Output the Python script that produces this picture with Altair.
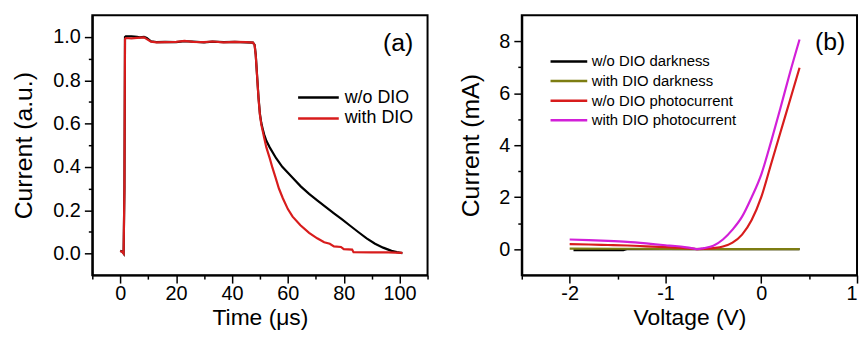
import altair as alt
import pandas as pd

FONT = "Liberation Sans"

# ---------------- Panel (a): transient current ----------------
t_wo = [0.0, 0.8, 1.2, 1.5, 1.7, 2.0, 4.0, 6.0, 7.0, 8.5, 9.5, 11.0, 13.0, 16.0, 20.0, 23.0, 26.0, 30.0,
        33.0, 37.0, 41.0, 45.0, 47.5, 48.1, 48.5, 49.0, 49.5, 50.0, 50.5, 51.0, 51.5, 52.3, 53.5, 55.8,
        58.0, 61.7, 64.6, 67.6, 70.5, 73.5, 76.5, 79.4, 82.3, 85.3, 88.2, 91.2, 94.1, 97.1, 99.0, 101.0]
i_wo = [0.012, 0.008, 0.0, 0.3, 1.0, 1.003, 1.003, 1.0, 0.998, 1.0, 0.995, 0.98, 0.976, 0.977, 0.976,
        0.98, 0.978, 0.975, 0.978, 0.976, 0.977, 0.975, 0.974, 0.963, 0.918, 0.818, 0.72, 0.645, 0.602,
        0.575, 0.55, 0.52, 0.49, 0.44, 0.40, 0.35, 0.31, 0.275, 0.245, 0.215, 0.185, 0.157, 0.128, 0.098,
        0.07, 0.045, 0.027, 0.012, 0.006, 0.002]

t_with = [0.0, 0.8, 1.2, 1.5, 1.7, 2.0, 4.0, 6.0, 8.5, 9.5, 11.0, 13.0, 16.0, 20.0, 23.0, 26.0, 30.0,
          33.0, 37.0, 41.0, 45.0, 47.5, 48.1, 48.5, 49.0, 49.5, 50.0, 50.5, 51.0, 51.5, 52.3, 53.5, 54.5,
          55.6, 56.8, 58.2, 60.0, 61.7, 64.5, 67.6, 70.5, 73.0, 75.0, 76.5, 79.0, 80.0, 83.0, 83.5, 90.0,
          96.0, 101.0]
i_with = [0.012, 0.006, 0.0, 0.3, 0.99, 0.995, 0.993, 0.996, 0.998, 0.99, 0.978, 0.975, 0.976, 0.977,
          0.982, 0.977, 0.976, 0.979, 0.975, 0.977, 0.976, 0.974, 0.962, 0.915, 0.815, 0.715, 0.64, 0.595,
          0.565, 0.535, 0.49, 0.44, 0.395, 0.35, 0.30, 0.255, 0.205, 0.17, 0.13, 0.095, 0.07, 0.052, 0.045,
          0.033, 0.03, 0.02, 0.018, 0.006, 0.005, 0.005, 0.003]

series_a = ["w/o DIO", "with DIO"]
colors_a = ["#000000", "#d81c1c"]

# ---------------- Panel (b): I-V curves ----------------
v_dark_wo = [-1.96, -1.45, -1.40, 0.4]
i_dark_wo = [-0.04, -0.04, 0.0, 0.0]
v_dark_with = [-2.0, -1.0, 0.0, 0.4]
i_dark_with = [0.02, 0.01, 0.0, 0.0]

v_photo = [-2.0, -1.8, -1.6, -1.4, -1.2, -1.0, -0.9, -0.8, -0.7, -0.67, -0.6, -0.5, -0.4, -0.3, -0.2,
           -0.1, 0.0, 0.1, 0.2, 0.3, 0.4]
i_photo_wo = [0.19, 0.18, 0.16, 0.14, 0.11, 0.08, 0.06, 0.04, 0.01, 0.0, 0.005, 0.04, 0.1, 0.25, 0.56,
              1.12, 2.0, 3.24, 4.49, 5.73, 6.98]
i_photo_with = [0.37, 0.35, 0.32, 0.28, 0.22, 0.15, 0.12, 0.08, 0.02, 0.0, 0.04, 0.13, 0.37, 0.75, 1.25,
                2.0, 2.87, 4.1, 5.42, 6.79, 8.07]

series_b = ["w/o DIO darkness", "with DIO darkness", "w/o DIO photocurrent", "with DIO photocurrent"]
colors_b = ["#000000", "#7d7d12", "#d81c1c", "#d21fd8"]

panel_labels = ["(a)", "(b)"]

# ---------------- build ----------------
W, H = 338, 262


def axis(title, values, major_test, label_expr, orient, label_pad, title_pad, title_size, flush=False):
    return alt.Axis(
        title=title, orient=orient, values=values, labelExpr=label_expr,
        tickSize={"condition": {"test": major_test, "value": 8}, "value": 4},
        labelPadding=label_pad, titlePadding=title_pad, grid=False, labelOverlap=False,
        labelFlush=flush,
        labelFont=FONT, labelFontSize=20, labelColor="black",
        titleFont=FONT, titleFontSize=title_size, titleFontWeight="normal", titleColor="black",
        domainColor="black", domainWidth=2, tickColor="black", tickWidth=1.5,
    )


def legend(x, y, path, font_size, offset, row_pad):
    return alt.Legend(orient="none", legendX=x, legendY=y, title=None,
                      symbolType=path, symbolSize=100, symbolStrokeWidth=2.5,
                      labelFontSize=font_size, labelFont=FONT, labelColor="black",
                      labelOffset=offset, rowPadding=row_pad)


xa_vals = list(range(-10, 111, 10))
ya_vals = [round(0.1 * k, 1) for k in range(11)]
xa = alt.Scale(domain=[-10, 110], nice=False, zero=False)
ya = alt.Scale(domain=[-0.1, 1.1], nice=False, zero=False)
x_axis_a = axis("Time (μs)", xa_vals, "datum.value % 20 === 0",
                "(datum.value % 20 === 0 && datum.value >= 0 && datum.value <= 100) ? '' + datum.value : ''",
                "bottom", 1, 3, 23)
y_axis_a = axis("Current (a.u.)", ya_vals, "round(datum.value * 10) % 2 === 0",
                "round(datum.value * 10) % 2 === 0 ? format(datum.value, '.1f') : ''",
                "left", 4, 16, 25)
color_a = alt.Color("series:N", scale=alt.Scale(domain=series_a, range=colors_a),
                    legend=legend(219, 74, "M-4.1,0H4.1", 18, 17.5, 3))

df_a1 = pd.DataFrame({"t": t_wo, "i": i_wo, "series": series_a[0]})
df_a2 = pd.DataFrame({"t": t_with, "i": i_with, "series": series_a[1]})

lines_a = [
    alt.Chart(d).mark_line(strokeWidth=2.2).encode(
        x=alt.X("t:Q", scale=xa, axis=x_axis_a),
        y=alt.Y("i:Q", scale=ya, axis=y_axis_a),
        color=color_a,
    )
    for d in (df_a1, df_a2)
]
lab_a = alt.Chart(pd.DataFrame({"x": [99.5], "y": [0.972], "txt": [panel_labels[0]]})).mark_text(
    font=FONT, fontSize=25, color="black", align="center", baseline="middle"
).encode(x=alt.X("x:Q", scale=xa, axis=x_axis_a), y=alt.Y("y:Q", scale=ya, axis=y_axis_a), text="txt:N")

panel_a = alt.layer(*lines_a, lab_a).properties(width=W, height=H)

xb_vals = [-2.5, -2.0, -1.5, -1.0, -0.5, 0.0, 0.5, 1.0]
yb_vals = list(range(0, 9))
xb = alt.Scale(domain=[-2.5, 1.0], nice=False, zero=False)
yb = alt.Scale(domain=[-1, 9], nice=False, zero=False)
x_axis_b = axis("Voltage (V)", xb_vals, "datum.value % 1 === 0",
                "(datum.value % 1 === 0 && datum.value >= -2) ? '' + datum.value : ''", "bottom", 1, 3, 23,
                flush=True)
y_axis_b = axis("Current (mA)", yb_vals, "datum.value % 2 === 0",
                "datum.value % 2 === 0 ? '' + datum.value : ''", "left", 4, 16, 25)
color_b = alt.Color("series:N", scale=alt.Scale(domain=series_b, range=colors_b),
                    legend=legend(40, 39, "M-3.7,0H3.7", 15, 15.5, 3.8))

dfs_b = [
    pd.DataFrame({"v": v_dark_wo, "i": i_dark_wo, "series": series_b[0]}),
    pd.DataFrame({"v": v_dark_with, "i": i_dark_with, "series": series_b[1]}),
    pd.DataFrame({"v": v_photo, "i": i_photo_wo, "series": series_b[2]}),
    pd.DataFrame({"v": v_photo, "i": i_photo_with, "series": series_b[3]}),
]
lines_b = [
    alt.Chart(d).mark_line(strokeWidth=2.2, interpolate="monotone").encode(
        x=alt.X("v:Q", scale=xb, axis=x_axis_b),
        y=alt.Y("i:Q", scale=yb, axis=y_axis_b),
        color=color_b,
    )
    for d in dfs_b
]
lab_b = alt.Chart(pd.DataFrame({"x": [0.72], "y": [7.95], "txt": [panel_labels[1]]})).mark_text(
    font=FONT, fontSize=25, color="black", align="center", baseline="middle"
).encode(x=alt.X("x:Q", scale=xb, axis=x_axis_b), y=alt.Y("y:Q", scale=yb, axis=y_axis_b), text="txt:N")

panel_b = alt.layer(*lines_b, lab_b).properties(width=W, height=H)

chart = alt.hconcat(panel_a, panel_b, spacing=27).resolve_scale(color="independent").properties(
    padding={"left": 3, "top": 5, "right": 0, "bottom": 0}, background="white"
).configure_view(
    stroke="black", strokeWidth=2
)

chart.save("out.html", embed_options={"renderer": "svg", "actions": False})
